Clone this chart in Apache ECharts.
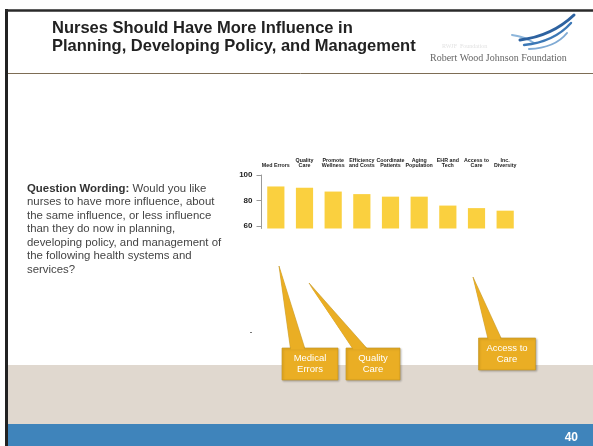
<!DOCTYPE html>
<html>
<head>
<meta charset="utf-8">
<script src="https://cdn.jsdelivr.net/npm/echarts@6/dist/echarts.min.js"></script>
<style>
html,body{margin:0;padding:0;background:#fff;}
#c{width:593px;height:446px;}
</style>
</head>
<body>
<div id="c"></div>
<script>
// ---- data ----
const categories = ['Med Errors', 'Quality\nCare', 'Promote\nWellness', 'Efficiency\nand Costs', 'Coordinate\nPatients', 'Aging\nPopulation', 'EHR and\nTech', 'Access to\nCare', 'Inc.\nDiversity'];
const moreInfluence = [91, 90, 87, 85, 83, 83, 76, 74, 72];
const yTickValues = [60, 80, 100];
const titleLines = ['Nurses Should Have More Influence in', 'Planning, Developing Policy, and Management'];
const questionLines = [
  '{b|Question Wording:} Would you like',
  'nurses to have more influence, about',
  'the same influence, or less influence',
  'than they do now in planning,',
  'developing policy, and management of',
  'the following health systems and',
  'services?'
];
const callouts = ['Medical\nErrors', 'Quality\nCare', 'Access to\nCare'];
const pageNumber = '40';

const chart = echarts.init(document.getElementById('c'), null, {renderer: 'canvas'});
const FONT = 'Liberation Sans, Arial, sans-serif';
const GOLD = '#EAAE24';
const GOLD_EDGE = '#C4961E';

function callout(text, box, tip, base) {
  return [
    {type: 'polygon', z: 20, shape: {points: [[base[0], box[1] + 1], tip, [base[1], box[1] + 1]]},
     style: {fill: GOLD, stroke: GOLD_EDGE, lineWidth: 0.6}},
    {type: 'rect', z: 21, shape: {x: box[0], y: box[1], width: box[2], height: box[3]},
     style: {fill: GOLD, stroke: GOLD_EDGE, lineWidth: 0.6, shadowBlur: 2, shadowColor: 'rgba(0,0,0,0.25)', shadowOffsetX: 1, shadowOffsetY: 1}},
    {type: 'polygon', z: 22, shape: {points: [[base[0] + 0.6, box[1] + 1.5], [tip[0] + 0.5, tip[1] + 2], [base[1] - 0.6, box[1] + 1.5]]},
     style: {fill: GOLD}},
    {type: 'text', z: 23, x: box[0] + box[2] / 2, y: box[1] + box[3] / 2,
     style: {text: text, fill: '#fff', font: '9.5px ' + FONT, lineHeight: 11.7, align: 'center', verticalAlign: 'middle'}}
  ];
}

function swoosh(x1, y1, cx, cy, x2, y2, color, w) {
  return {type: 'bezierCurve', z: 10, shape: {x1: x1, y1: y1, cpx1: cx, cpy1: cy, x2: x2, y2: y2},
          style: {stroke: color, lineWidth: w, fill: null, lineCap: 'round'}};
}

const graphics = [].concat(
  [
    // beige band and blue footer
    {type: 'rect', z: 1, shape: {x: 8, y: 365, width: 585, height: 59}, style: {fill: '#E0D8CF'}},
    {type: 'rect', z: 1, shape: {x: 8, y: 424, width: 585, height: 22}, style: {fill: '#3F84BB'}},
    // borders
    {type: 'line', z: 5, shape: {x1: 6.5, y1: 9, x2: 6.5, y2: 446}, style: {stroke: '#222', lineWidth: 3}},
    {type: 'line', z: 5, shape: {x1: 5, y1: 10.5, x2: 593, y2: 10.5}, style: {stroke: '#2a2a2a', lineWidth: 2.5}},
    {type: 'line', z: 5, shape: {x1: 8, y1: 73.5, x2: 593, y2: 73.5}, style: {stroke: '#7d6d55', lineWidth: 1}},
    // title
    {type: 'text', z: 10, x: 52, y: 37, style: {text: titleLines.join('\n'), fill: '#222', font: 'bold 16.5px ' + FONT, lineHeight: 18, verticalAlign: 'middle'}},
    // logo
    {type: 'text', z: 10, x: 430, y: 58, style: {text: 'Robert Wood Johnson Foundation', fill: '#666', font: '10px Liberation Serif, Times New Roman, serif', verticalAlign: 'middle'}},
    swoosh(512, 35, 526, 37, 534, 43, '#8DB6DB', 2),
    swoosh(520, 40, 552, 36, 574, 15, '#2D62A0', 3),
    swoosh(524, 45, 554, 42, 571, 23, '#3C78B6', 2.4),
    swoosh(529, 49, 555, 48, 567, 33, '#7FAAD4', 2),
    {type: 'text', z: 10, x: 442, y: 46, style: {text: 'RWJF  Foundation', fill: '#e2e2e2', font: '6px Liberation Serif, serif', verticalAlign: 'middle'}},
    // question text
    {type: 'text', z: 10, x: 27, y: 182, style: {text: questionLines.join('\n'), fill: '#444', font: '11.4px ' + FONT, lineHeight: 13.45, verticalAlign: 'top',
      rich: {b: {fontWeight: 'bold', fill: '#333', fontSize: 11.4, fontFamily: FONT, lineHeight: 13.45}}}},
    // stray dash
    {type: 'line', z: 10, shape: {x1: 250, y1: 332.5, x2: 252, y2: 332.5}, style: {stroke: '#777', lineWidth: 1}},
    // page number
    {type: 'text', z: 10, x: 578, y: 438, style: {text: pageNumber, fill: '#fff', font: 'bold 12px ' + FONT, align: 'right', verticalAlign: 'middle'}}
  ],
  callout(callouts[0], [282, 348, 56, 32], [279, 266], [290.5, 305]),
  callout(callouts[1], [346, 348, 54, 32], [309, 283], [353, 367.5]),
  callout(callouts[2], [478.5, 338, 57, 32], [473, 277], [488, 501.5])
);

chart.setOption({
  animation: false,
  backgroundColor: '#fff',
  grid: {left: 261.5, top: 175, width: 258, height: 53.5, containLabel: false},
  xAxis: {
    type: 'category', position: 'top', data: categories,
    axisLine: {show: false}, axisTick: {show: false},
    axisLabel: {interval: 0, fontSize: 5.3, fontWeight: 'bold', color: '#1a1a1a', lineHeight: 5, margin: 7, fontFamily: FONT}
  },
  yAxis: {
    type: 'value', min: 58, max: 100,
    axisLine: {show: true, lineStyle: {color: '#999', width: 1}},
    axisTick: {show: true, length: 5, customValues: yTickValues, lineStyle: {color: '#999'}},
    axisLabel: {customValues: yTickValues, fontSize: 8, fontWeight: 'bold', color: '#222', margin: 9, fontFamily: FONT},
    splitLine: {show: false}
  },
  series: [{
    type: 'bar', data: moreInfluence, barCategoryGap: '40%',
    itemStyle: {color: '#FAD03F'}, silent: true
  }],
  graphic: graphics
});
</script>
</body>
</html>
